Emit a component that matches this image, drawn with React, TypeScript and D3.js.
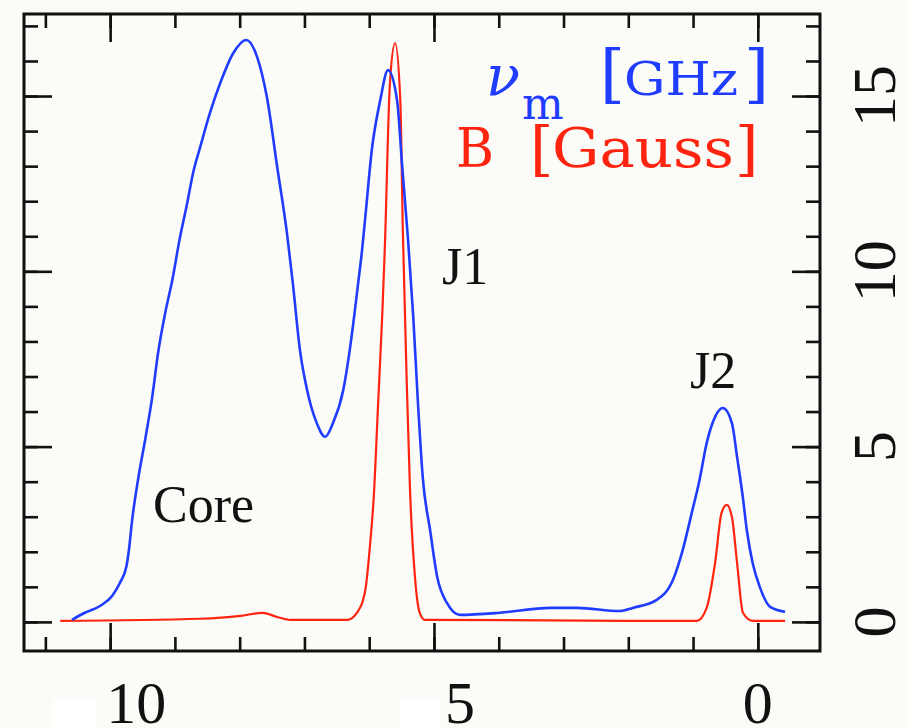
import React, { useRef, useEffect } from "react";
import { select, scaleLinear, line, curveMonotoneX, axisTop, axisBottom, axisLeft, axisRight, range } from "d3";

// distance along the jet (reversed axis), and the two profiles
const nuX = [10.59, 10.39, 10.15, 9.97, 9.85, 9.75, 9.71, 9.66, 9.57, 9.46, 9.35, 9.26, 9.15, 9.04, 8.93, 8.81, 8.72, 8.61, 8.46, 8.30, 8.10, 7.90, 7.73, 7.58, 7.42, 7.27, 7.18, 7.07, 6.96, 6.81, 6.68, 6.56, 6.40, 6.30, 6.17, 6.11, 6.06, 5.96, 5.83, 5.71, 5.57, 5.49, 5.40, 5.32, 5.25, 5.17, 5.06, 4.95, 4.80, 4.60, 3.98, 3.21, 2.79, 2.13, 1.93, 1.56, 1.31, 1.16, 1.02, 0.90, 0.79, 0.66, 0.54, 0.40, 0.32, 0.23, 0.17, 0.08, -0.03, -0.19, -0.42]
const nuY = [0.06, 0.26, 0.46, 0.74, 1.11, 1.57, 2.05, 2.91, 4.05, 5.19, 6.42, 7.67, 8.81, 9.75, 10.89, 11.95, 12.80, 13.54, 14.51, 15.37, 16.22, 16.60, 16.11, 14.97, 12.97, 11.09, 9.67, 7.76, 6.62, 5.67, 5.28, 5.67, 6.62, 7.76, 9.67, 10.61, 11.55, 13.46, 14.88, 15.74, 14.88, 12.97, 10.89, 8.70, 6.33, 4.05, 2.62, 1.28, 0.54, 0.20, 0.26, 0.40, 0.40, 0.31, 0.40, 0.63, 1.20, 2.05, 3.11, 4.05, 5.10, 5.85, 6.10, 5.67, 4.70, 3.54, 2.62, 1.68, 1.00, 0.43, 0.29]

const bX = [10.77, 8.61, 7.99, 7.65, 7.42, 7.22, 6.34, 6.19, 6.06, 5.99, 5.93, 5.86, 5.80, 5.76, 5.68, 5.60, 5.52, 5.48, 5.42, 5.37, 5.29, 5.22, 5.14, 0.94, 0.79, 0.66, 0.56, 0.48, 0.40, 0.32, 0.23, 0.08, -0.42]
const bY = [0.03, 0.09, 0.17, 0.26, 0.14, 0.06, 0.06, 0.26, 0.91, 2.14, 3.56, 6.33, 8.70, 10.61, 15.37, 16.51, 14.88, 11.09, 6.81, 3.76, 1.20, 0.26, 0.06, 0.03, 0.40, 1.68, 3.11, 3.34, 2.99, 1.68, 0.26, 0.03, 0.03]

const xLabels = [10, 5, 0]
const yLabels = [0, 5, 10, 15]
const minorX = range(0, 12)
const minorY = range(0, 18)

const W = 909
const H = 728
const BLUE = "#1f3cff"
const RED = "#ff2410"
const SERIF = "'Liberation Serif', 'Times New Roman', serif"
const LEGEND = "'DejaVu Serif', serif"

const App = () => {
    const svgRef = useRef(null)

    useEffect(() => {
        const svg = select(svgRef.current)
        svg.selectAll("*").remove()

        const left = 24, right = 820, top = 14, bottom = 651

        const xScale = scaleLinear().domain([11.33, -0.96]).range([left, right])
        const yScale = scaleLinear().domain([-0.83, 17.34]).range([bottom, top])

        svg.append("rect").attr("width", W).attr("height", H).attr("fill", "#fbfbf8")

        // curves
        const gen = line().x(d => xScale(d[0])).y(d => yScale(d[1])).curve(curveMonotoneX)
        const nuData = nuX.map((x, i) => [x, nuY[i]]).sort((a, b) => b[0] - a[0])
        const bData = bX.map((x, i) => [x, bY[i]]).sort((a, b) => b[0] - a[0])

        svg.append("path").datum(bData).attr("d", gen)
            .attr("fill", "none").attr("stroke", RED).attr("stroke-width", 2.2)
        svg.append("path").datum(nuData).attr("d", gen)
            .attr("fill", "none").attr("stroke", BLUE).attr("stroke-width", 2.6)

        // ticks, minor + major on all four sides
        const tickStyle = g => {
            g.select(".domain").remove()
            g.selectAll("line").attr("stroke", "#111").attr("stroke-width", 2.6)
        }
        const sides = [
            { ax: axisTop, scale: xScale, pos: `translate(0,${top})`, minor: minorX, major: xLabels },
            { ax: axisBottom, scale: xScale, pos: `translate(0,${bottom})`, minor: minorX, major: xLabels },
            { ax: axisLeft, scale: yScale, pos: `translate(${left},0)`, minor: minorY, major: yLabels },
            { ax: axisRight, scale: yScale, pos: `translate(${right},0)`, minor: minorY, major: yLabels },
        ]
        sides.forEach(s => {
            svg.append("g").attr("transform", s.pos)
                .call(s.ax(s.scale).tickValues(s.minor).tickSize(-14).tickFormat(""))
                .call(tickStyle)
            svg.append("g").attr("transform", s.pos)
                .call(s.ax(s.scale).tickValues(s.major).tickSize(-28).tickFormat(""))
                .call(tickStyle)
        })

        svg.append("rect")
            .attr("x", left).attr("y", top)
            .attr("width", right - left).attr("height", bottom - top)
            .attr("fill", "none").attr("stroke", "#111").attr("stroke-width", 3)

        // bottom labels (the minus signs are blanked out in the original)
        const blank = { 10: [-57, 44], 5: [-33, 40] }
        xLabels.forEach(v => {
            const shift = v === 0 ? 0 : 26
            if (blank[v]) {
                svg.append("rect")
                    .attr("x", xScale(v) + blank[v][0]).attr("y", 699)
                    .attr("width", blank[v][1]).attr("height", 29)
                    .attr("fill", "#ffffff")
            }
            svg.append("text")
                .attr("x", xScale(v) + shift).attr("y", 723)
                .attr("text-anchor", "middle")
                .attr("font-family", SERIF).attr("font-size", 60)
                .attr("fill", "#111")
                .text(v)
        })

        // right labels, rotated
        yLabels.forEach(v => {
            svg.append("text")
                .attr("transform", `translate(895,${yScale(v)}) rotate(-90)`)
                .attr("text-anchor", "middle")
                .attr("font-family", SERIF).attr("font-size", 62)
                .attr("fill", "#111")
                .text(v)
        })

        // annotations
        const notes = [
            { t: "J1", x: 442, y: 284 },
            { t: "J2", x: 690, y: 388 },
            { t: "Core", x: 153, y: 522 },
        ]
        notes.forEach(n => {
            svg.append("text").attr("x", n.x).attr("y", n.y)
                .attr("font-family", SERIF).attr("font-size", 52).attr("fill", "#111")
                .text(n.t)
        })

        // legend
        const blue = svg.append("g").attr("fill", BLUE).attr("font-family", LEGEND)
        blue.append("text").attr("x", 486).attr("y", 95).attr("font-size", 56)
            .attr("font-style", "italic").text("ν")
        blue.append("text").attr("x", 522).attr("y", 119).attr("font-size", 44).text("m")
        blue.append("text").attr("x", 600).attr("y", 96).attr("font-size", 64).text("[")
        blue.append("text").attr("x", 624).attr("y", 95).attr("font-size", 46)
            .attr("textLength", 114).attr("lengthAdjust", "spacingAndGlyphs").text("GHz")
        blue.append("text").attr("x", 744).attr("y", 96).attr("font-size", 64).text("]")

        const red = svg.append("g").attr("fill", RED).attr("font-family", LEGEND)
        red.append("text").attr("x", 456).attr("y", 167).attr("font-size", 55)
            .attr("textLength", 38).attr("lengthAdjust", "spacingAndGlyphs").text("B")
        red.append("text").attr("x", 530).attr("y", 169).attr("font-size", 60).text("[")
        red.append("text").attr("x", 552).attr("y", 167).attr("font-size", 55)
            .attr("textLength", 182).attr("lengthAdjust", "spacingAndGlyphs").text("Gauss")
        red.append("text").attr("x", 735).attr("y", 169).attr("font-size", 60).text("]")
    }, [])

    return (
        <div style={{ position: "absolute", left: 0, top: 0 }}>
            <svg ref={svgRef} width={W} height={H} style={{ display: "block" }} />
        </div>
    )
}

export default App
